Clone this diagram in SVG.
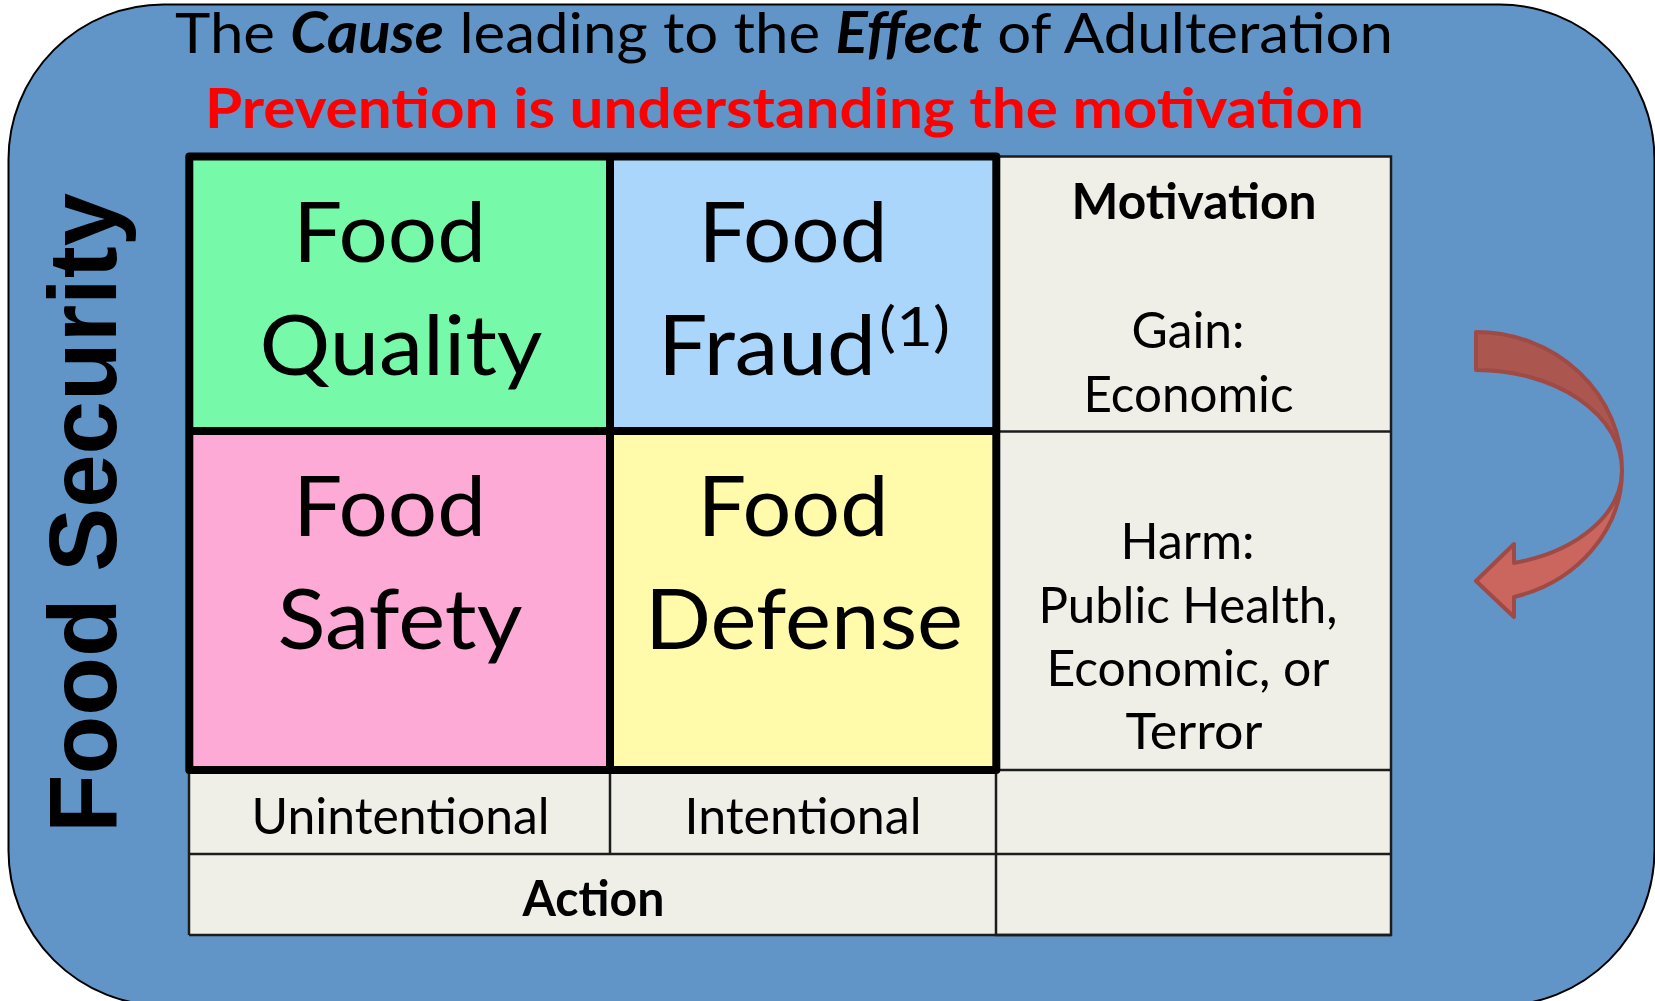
<svg xmlns="http://www.w3.org/2000/svg" width="1655" height="1001" viewBox="0 0 1655 1001">
<defs>
<style>
.cal{font-family:Lato,"Open Sans","Liberation Sans",sans-serif;fill:#000}
.big{font-size:84px;text-anchor:middle}
.mid{font-size:50px;text-anchor:middle}
.b{font-weight:bold}
.thin{fill:none;stroke:#1c1c1c;stroke-width:2.5}
.thick{fill:none;stroke:#000;stroke-width:8;stroke-linejoin:round}
.tbl{fill:#EFEFE7}
</style>
</defs>
<rect id="background" x="8.5" y="4.5" width="1646" height="1001" rx="155" ry="155" fill="#6195C8" stroke="#000" stroke-width="2"/>
<g id="title">
<text class="cal" x="784" y="53" font-size="57" text-anchor="middle" textLength="1218" lengthAdjust="spacingAndGlyphs">The <tspan font-weight="bold" font-style="italic">Cause</tspan> leading to the <tspan font-weight="bold" font-style="italic">Effect</tspan> of Adulteration</text>
<text class="cal b" x="784.5" y="128" font-size="56" text-anchor="middle" textLength="1159" lengthAdjust="spacingAndGlyphs" style="fill:#FF0000">Prevention is understanding the motivation</text>
</g>
<g id="food-security-label">
<text transform="translate(116,513) rotate(-90)" font-family="'Liberation Sans',Arial,sans-serif" font-weight="bold" font-size="96" text-anchor="middle">Food Security</text>
</g>
<g id="motivation-column">
<rect class="tbl" x="996" y="156.5" width="395" height="778.5"/>
<rect class="tbl" x="189" y="770" width="807" height="165"/>
</g>
<g id="food-quality">
<rect x="189.3" y="156.5" width="420.7" height="274.5" fill="#76FAAA"/>
<text class="cal big" x="389.5" y="262" textLength="193" lengthAdjust="spacingAndGlyphs">Food</text>
<text class="cal big" x="401" y="375" textLength="283" lengthAdjust="spacingAndGlyphs">Quality</text>
</g>
<g id="food-fraud">
<rect x="610" y="156.5" width="386.3" height="274.5" fill="#AAD6FC"/>
<text class="cal big" x="793" y="262" textLength="189" lengthAdjust="spacingAndGlyphs">Food</text>
<text class="cal big" x="767" y="375" textLength="218" lengthAdjust="spacingAndGlyphs">Fraud</text>
<text class="cal" x="914.5" y="346" font-size="54" text-anchor="middle" textLength="71" lengthAdjust="spacingAndGlyphs">(1)</text>
</g>
<g id="food-safety">
<rect x="189.3" y="431" width="420.7" height="339" fill="#FEAAD6"/>
<text class="cal big" x="389.5" y="536" textLength="193" lengthAdjust="spacingAndGlyphs">Food</text>
<text class="cal big" x="400" y="649" textLength="245" lengthAdjust="spacingAndGlyphs">Safety</text>
</g>
<g id="food-defense">
<rect x="610" y="431" width="386.3" height="339" fill="#FFFBAA"/>
<text class="cal big" x="793" y="536" textLength="191" lengthAdjust="spacingAndGlyphs">Food</text>
<text class="cal big" x="804" y="649" textLength="318" lengthAdjust="spacingAndGlyphs">Defense</text>
</g>
<g id="table-lines">
<rect class="thin" x="996" y="156.5" width="395" height="778.5"/>
<line class="thin" x1="996" y1="431.5" x2="1391" y2="431.5"/>
<line class="thin" x1="189" y1="770" x2="1391" y2="770"/>
<line class="thin" x1="189" y1="854" x2="1391" y2="854"/>
<line class="thin" x1="189" y1="935" x2="1391" y2="935"/>
<line class="thin" x1="189" y1="770" x2="189" y2="935"/>
<line class="thin" x1="610" y1="770" x2="610" y2="854"/>
<path class="thick" d="M189.3,156.5H996.3V770H189.3Z M610,156.5V770 M189.3,431H996.3"/>
</g>
<g id="motivation-text">
<text class="cal mid b" x="1194" y="219" textLength="245" lengthAdjust="spacingAndGlyphs">Motivation</text>
<text class="cal mid" x="1188" y="348" textLength="113" lengthAdjust="spacingAndGlyphs">Gain:</text>
<text class="cal mid" x="1188.5" y="412" textLength="210" lengthAdjust="spacingAndGlyphs">Economic</text>
<text class="cal mid" x="1187.5" y="559" textLength="134" lengthAdjust="spacingAndGlyphs">Harm:</text>
<text class="cal mid" x="1188" y="623" textLength="299" lengthAdjust="spacingAndGlyphs">Public Health,</text>
<text class="cal mid" x="1188" y="686" textLength="283" lengthAdjust="spacingAndGlyphs">Economic, or</text>
<text class="cal mid" x="1194" y="749" textLength="137" lengthAdjust="spacingAndGlyphs">Terror</text>
</g>
<g id="action-row">
<text class="cal mid" x="400.5" y="834" textLength="298" lengthAdjust="spacingAndGlyphs">Unintentional</text>
<text class="cal mid" x="803" y="834" textLength="237" lengthAdjust="spacingAndGlyphs">Intentional</text>
<text class="cal mid b" x="593.5" y="916" textLength="142" lengthAdjust="spacingAndGlyphs">Action</text>
</g>
<g id="connectors">
<path d="M1476,332 L1476,370 A146,100 0 0 1 1622,470 A146,138 0 0 0 1476,332 Z" fill="#AC5650" stroke="#A04A45" stroke-width="4" stroke-linejoin="round"/>
<path d="M1622,470 A146,131 0 0 1 1514,597 L1514,617 L1476,581 L1514,544 L1514,563 A146,96 0 0 0 1622,470 Z" fill="#CB665F" stroke="#A04A45" stroke-width="4" stroke-linejoin="round"/>
</g>
</svg>
